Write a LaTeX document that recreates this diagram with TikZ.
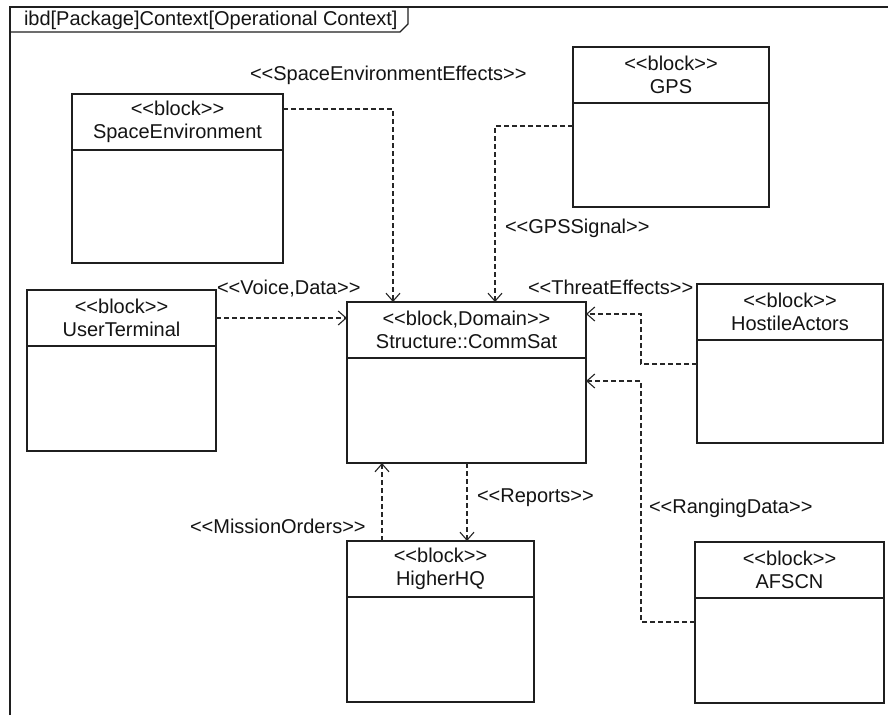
\documentclass[tikz,border=0pt]{standalone}
\usepackage{fontspec}
\setmainfont{Liberation Sans}
\usetikzlibrary{arrows.meta}
% stereotype brackets, kept apart so they never turn into guillemets
\newcommand\stl{<\kern0pt<}
\newcommand\str{>\kern0pt>}
\begin{document}
\begin{tikzpicture}[x=1pt,y=-1pt,
  font=\fontsize{20}{23}\selectfont,
  every node/.style={text=black!92, inner sep=0pt, outer sep=0pt},
  frameline/.style={draw=black!88, line width=1.3pt},
  blk/.style={draw=black!88, line width=1.4pt, rectangle},
  blkline/.style={draw=black!88, line width=1.4pt},
  blktext/.style={align=center},
  flow/.style={draw=black!85, line width=1.1pt, dash pattern=on 5pt off 3pt,
    -{Straight Barb[length=8pt,width=14pt,line width=1.1pt]}},
  lbl/.style={anchor=west}]
\useasboundingbox (0,0) rectangle (888,715);
\fill[white] (0,0) rectangle (888,715);

% diagram frame and its name tab
\draw[frameline] (10,715) -- (10,7) -- (888,7);
\draw[frameline] (10,32) -- (400,32) -- (408,24) -- (408,7);
\node[anchor=west] (frame-title) at (24,20) {ibd[Package]Context[Operational Context]};

% block with a name compartment and an empty body
\newcommand\umlblock[6]{%
  \node[blk, minimum width=#4, minimum height=#5, anchor=north west] (#1) at (#2,#3) {};
  \draw[blkline] ([yshift=-56pt]#1.north west) -- ([yshift=-56pt]#1.north east);
  \node[blktext] (#1-name) at ([yshift=-28pt]#1.north) {#6};}

\umlblock{se}{72}{94}{211}{169}{\stl block\str\\SpaceEnvironment}
\umlblock{gps}{573}{47}{196}{160}{\stl block\str\\GPS}
\umlblock{ut}{27}{290}{189}{161}{\stl block\str\\UserTerminal}
\umlblock{cs}{347}{302}{239}{161}{\stl block,Domain\str\\Structure::CommSat}
\umlblock{ha}{697}{284}{186}{159}{\stl block\str\\HostileActors}
\umlblock{hq}{347}{541}{187}{161}{\stl block\str\\HigherHQ}
\umlblock{af}{695}{542}{189}{161}{\stl block\str\\AFSCN}

% item flows into and out of the satellite
\draw[flow] ([yshift=-15pt]se.north east) -| ([xshift=46pt]cs.north west);
\draw[flow] ([yshift=-79pt]gps.north west) -| ([xshift=148pt]cs.north west);
\draw[flow] ([yshift=-28pt]ut.north east) -- ([yshift=-16pt]cs.north west);
\draw[flow] ([yshift=-80pt]ha.north west) -- ++(-56,0) |- ([yshift=-12pt]cs.north east);
\draw[flow] ([yshift=-80pt]af.north west) -- ++(-54,0) |- ([yshift=-79pt]cs.north east);
\draw[flow] ([xshift=120pt]cs.south west) -- ([xshift=120pt]hq.north west);
\draw[flow] ([xshift=35pt]hq.north west) -- ([xshift=35pt]cs.south west);

% flow stereotypes
\node[lbl] (l-see) at (250,75) {\stl SpaceEnvironmentEffects\str};
\node[lbl] (l-gps) at (505,228) {\stl GPSSignal\str};
\node[lbl] (l-thr) at (528,287) {\stl ThreatEffects\str};
\node[lbl] (l-vd) at (217,289) {\stl Voice,Data\str};
\node[lbl] (l-rep) at (477,498) {\stl Reports\str};
\node[lbl] (l-mo) at (190,526) {\stl MissionOrders\str};
\node[lbl] (l-rng) at (649,508) {\stl RangingData\str};
\end{tikzpicture}
\end{document}
